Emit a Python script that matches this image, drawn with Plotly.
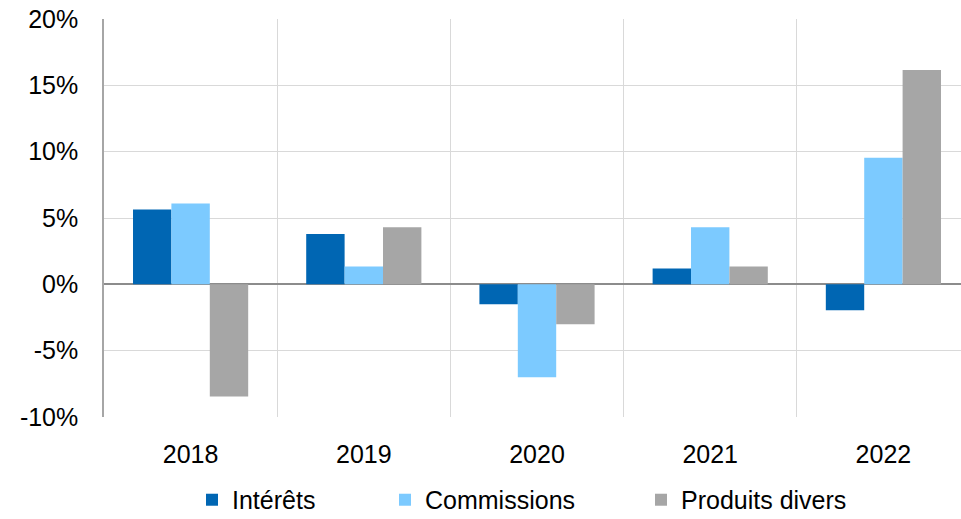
import plotly.graph_objects as go

years = ["2018", "2019", "2020", "2021", "2022"]
interets = [5.65, 3.8, -1.5, 1.2, -1.95]
commissions = [6.1, 1.35, -7.0, 4.3, 9.55]
produits = [-8.45, 4.3, -3.0, 1.35, 16.15]
y_ticks = [-10, -5, 0, 5, 10, 15, 20]
y_ticklabels = ["-10%", "-5%", "0%", "5%", "10%", "15%", "20%"]

font_family = "'Liberation Sans', Arial, sans-serif"

fig = go.Figure()
fig.add_trace(go.Bar(name="Intérêts", x=years, y=interets, legend="legend",
                     marker=dict(color="#0066b3", line=dict(width=0))))
fig.add_trace(go.Bar(name="Commissions", x=years, y=commissions, legend="legend2",
                     marker=dict(color="#7ccaff", line=dict(width=0))))
fig.add_trace(go.Bar(name="Produits divers", x=years, y=produits, legend="legend3",
                     marker=dict(color="#a6a6a6", line=dict(width=0))))

leg_common = dict(orientation="h", xanchor="left", y=-0.2085, yanchor="middle",
                  font=dict(size=25), itemwidth=30)

fig.update_layout(
    width=961, height=519,
    margin=dict(l=104, r=0, t=19, b=102, autoexpand=False),
    plot_bgcolor="white", paper_bgcolor="white",
    barmode="group", bargap=0.335, bargroupgap=0,
    font=dict(family=font_family, size=25, color="black"),
    showlegend=True,
    legend=dict(x=0.1027, **leg_common),
    legend2=dict(x=0.3279, **leg_common),
    legend3=dict(x=0.6266, **leg_common),
    xaxis=dict(range=[-0.5, 4.448], tickson="boundaries", showgrid=True, gridcolor="#d9d9d9",
               gridwidth=1, ticks="", showline=False, automargin=False, ticklabelstandoff=20),
    yaxis=dict(range=[-10, 20], tickvals=y_ticks, ticktext=y_ticklabels, showgrid=True,
               gridcolor="#d9d9d9", gridwidth=1, zeroline=True, zerolinecolor="#8c8c8c",
               zerolinewidth=1.5, showline=True, linecolor="#a6a6a6", linewidth=1.5,
               ticks="", automargin=False, ticklabelstandoff=19),
)

fig.write_html("out.html", config={"displayModeBar": False},
               post_script="document.body.style.margin='0';")
